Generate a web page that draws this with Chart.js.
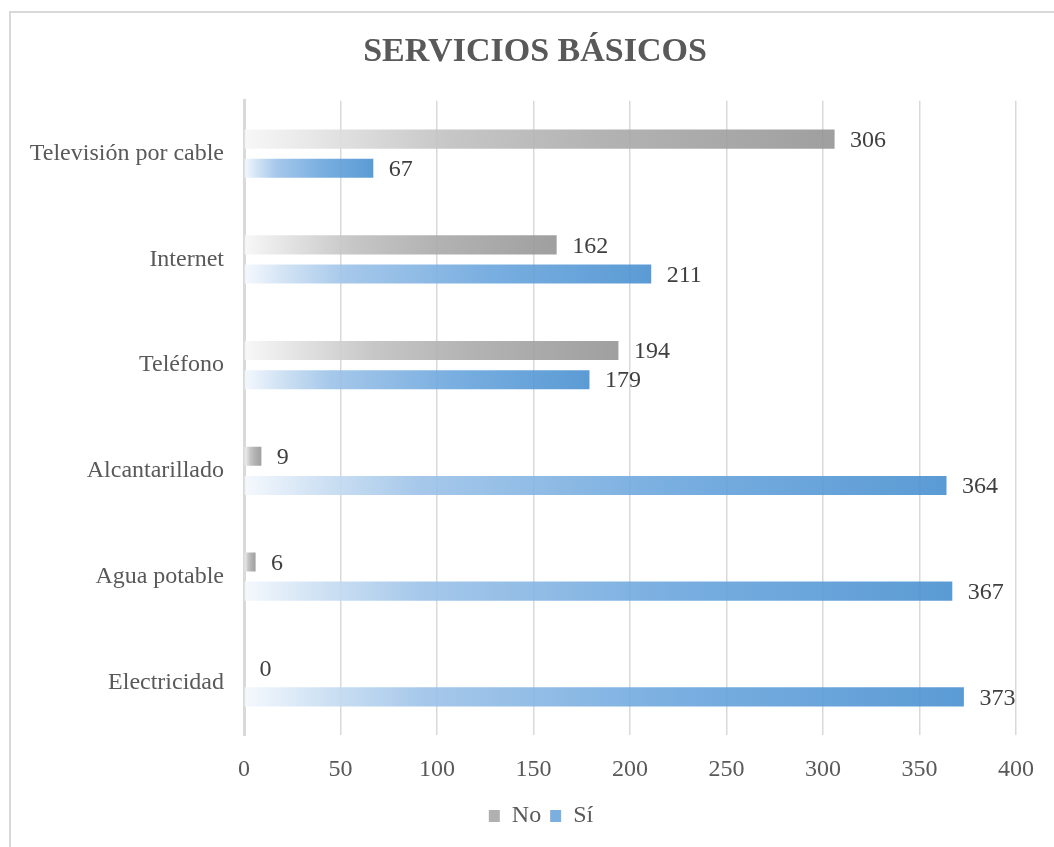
<!DOCTYPE html>
<html>
<head>
<meta charset="utf-8">
<script src="https://cdn.jsdelivr.net/npm/chart.js@4/dist/chart.umd.min.js"></script>
<style>
  html, body { margin: 0; padding: 0; background: #fff; overflow: hidden; }
  #frame { position: absolute; left: 9px; top: 11px; width: 2000px; height: 2000px;
           border-top: 2px solid #d9d9d9; border-left: 2px solid #d9d9d9; }
  #wrap { position: absolute; left: 0; top: 0; width: 1054px; height: 847px; }
</style>
</head>
<body>
<div id="frame"></div>
<div id="wrap"><canvas id="c" width="1054" height="847"></canvas></div>
<script>
const categories = ["Televisión por cable", "Internet", "Teléfono", "Alcantarillado", "Agua potable", "Electricidad"];
const seriesNo = [306, 162, 194, 9, 6, 0];
const seriesSi = [67, 211, 179, 364, 367, 373];
const xTicks = [0, 50, 100, 150, 200, 250, 300, 350, 400];
const titleText = "SERVICIOS BÁSICOS";

const FONT = "'Liberation Serif', 'Times New Roman', serif";
const ALPHA = 0.9;

function hexToRgb(h) {
  h = h.replace('#', '');
  return [parseInt(h.substr(0,2),16), parseInt(h.substr(2,2),16), parseInt(h.substr(4,2),16)];
}
// colour that, at ALPHA over white, appears as the target colour
function seeThrough(hex) {
  const rgb = hexToRgb(hex).map(v => Math.max(0, Math.min(255, Math.round((v - (1 - ALPHA) * 255) / ALPHA))));
  return `rgba(${rgb[0]},${rgb[1]},${rgb[2]},${ALPHA})`;
}

const grayStops = [[0, '#f8f8f8'], [0.15, '#e2e2e2'], [0.35, '#c6c6c6'], [0.6, '#b3b3b3'], [1, '#a0a0a0']];
const blueStops = [[0, '#f5f9fd'], [0.1, '#d2e3f4'], [0.25, '#a6c8ea'], [0.6, '#7aafe0'], [1, '#5b9bd5']];

function gradientFor(stops) {
  return function(ctx) {
    const chart = ctx.chart;
    const last = seeThrough(stops[stops.length - 1][1]);
    if (!chart.chartArea || ctx.type !== 'data') return last;
    const xs = chart.scales.x;
    const x0 = xs.getPixelForValue(0);
    const x1 = xs.getPixelForValue(ctx.raw);
    if (x1 - x0 < 1) return last;
    const g = chart.ctx.createLinearGradient(x0, 0, x1, 0);
    stops.forEach(s => g.addColorStop(s[0], seeThrough(s[1])));
    return g;
  };
}

const valueLabels = {
  id: 'valueLabels',
  afterDatasetsDraw(chart) {
    const ctx = chart.ctx;
    ctx.save();
    ctx.font = `24px ${FONT}`;
    ctx.fillStyle = '#404040';
    ctx.textAlign = 'left';
    ctx.textBaseline = 'middle';
    chart.data.datasets.forEach((ds, i) => {
      const meta = chart.getDatasetMeta(i);
      meta.data.forEach((el, j) => {
        ctx.fillText(String(ds.data[j]), el.x + 15.5, el.y + 1.5);
      });
    });
    ctx.restore();
  }
};

// nudge title and legend boxes to their place in the reference
const boxNudge = {
  id: 'boxNudge',
  afterLayout(chart) {
    const t = chart.titleBlock;
    if (t) { t.left += 17; t.right += 17; }
    const l = chart.legend;
    if (l) { l.left += 23; l.right += 23; l.top -= 9; l.bottom -= 9; }
  }
};

new Chart(document.getElementById('c'), {
  type: 'bar',
  data: {
    labels: categories,
    datasets: [
      { label: 'No', data: seriesNo, backgroundColor: gradientFor(grayStops), borderWidth: 0,
        categoryPercentage: 0.55, barPercentage: 0.655 },
      { label: 'Sí', data: seriesSi, backgroundColor: gradientFor(blueStops), borderWidth: 0,
        categoryPercentage: 0.55, barPercentage: 0.655 }
    ]
  },
  options: {
    indexAxis: 'y',
    responsive: false,
    animation: false,
    layout: { padding: { left: 20, right: 38, top: 0, bottom: 0 } },
    scales: {
      x: {
        min: 0, max: 400,
        afterBuildTicks(scale) { scale.ticks = xTicks.map(v => ({ value: v })); },
        grid: { color: '#d9d9d9', lineWidth: 1.5, drawTicks: false },
        border: { display: false },
        ticks: { color: '#595959', font: { family: FONT, size: 24 }, padding: 20 }
      },
      y: {
        afterFit(scale) { scale.width = 224; },
        grid: { display: false, drawTicks: false },
        border: { color: '#d9d9d9', width: 3 },
        ticks: { color: '#595959', font: { family: FONT, size: 24 }, padding: 20 }
      }
    },
    plugins: {
      title: {
        display: true, text: titleText, color: '#595959',
        font: { family: FONT, size: 34, weight: 'bold' },
        padding: { top: 32, bottom: 28 }
      },
      legend: {
        position: 'bottom',
        labels: {
          color: '#595959', font: { family: FONT, size: 24 },
          boxWidth: 11, boxHeight: 12, padding: 9,
          generateLabels(chart) {
            return [
              { text: 'No', fillStyle: '#b0b0b0', strokeStyle: '#b0b0b0', lineWidth: 0, datasetIndex: 0, fontColor: '#595959' },
              { text: 'Sí', fillStyle: '#7aafe0', strokeStyle: '#7aafe0', lineWidth: 0, datasetIndex: 1, fontColor: '#595959' }
            ];
          }
        }
      },
      tooltip: { enabled: false }
    }
  },
  plugins: [valueLabels, boxNudge]
});
</script>
</body>
</html>
